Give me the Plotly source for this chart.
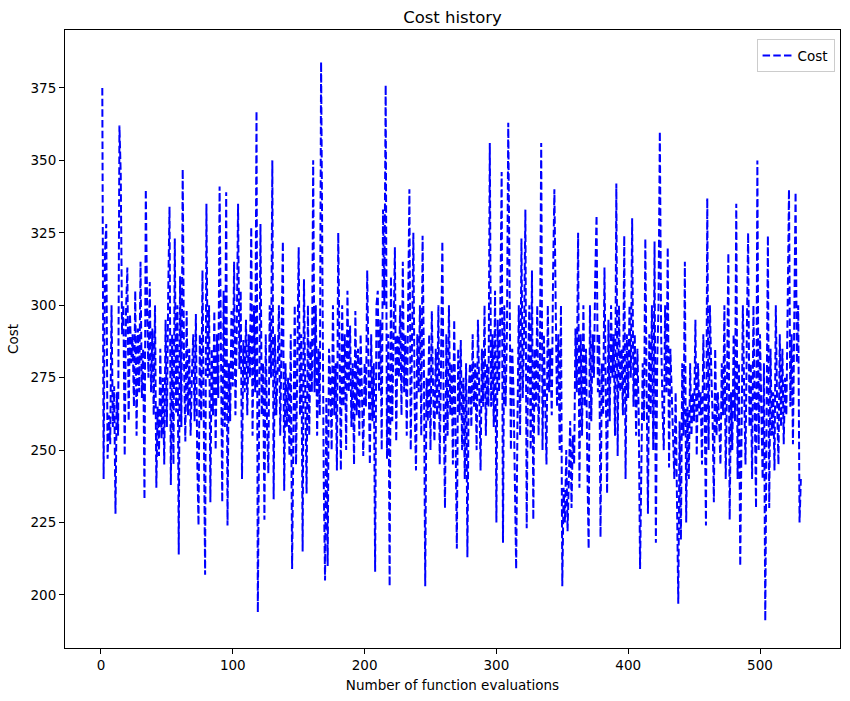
import plotly.graph_objects as go

cost = [
    375, 240, 318, 328, 247, 262, 252, 300, 258, 272,
    228, 270, 255, 362, 345, 290, 300, 248, 298, 313,
    260, 297, 280, 290, 265, 305, 255, 292, 270, 315,
    268, 285, 233, 340, 300, 275, 308, 270, 292, 262,
    300, 237, 265, 248, 285, 254, 275, 245, 295, 258,
    304, 334, 238, 290, 245, 323, 263, 300, 214, 310,
    258, 347, 280, 253, 298, 262, 285, 255, 276, 290,
    260, 297, 248, 224, 290, 260, 312, 245, 207, 335,
    275, 300, 232, 285, 262, 298, 250, 290, 268, 341,
    280, 232, 305, 258, 339, 224, 280, 260, 298, 272,
    315, 262, 290, 335, 278, 305, 240, 288, 270, 295,
    262, 290, 275, 327, 255, 300, 270, 367, 194, 285,
    328, 262, 280, 226, 290, 258, 242, 300, 275, 350,
    233, 290, 262, 278, 300, 255, 285, 322, 236, 280,
    258, 275, 248, 290, 209, 260, 300, 245, 278, 320,
    262, 290, 215, 309, 270, 235, 300, 255, 288, 270,
    350, 270, 300, 255, 285, 262, 384, 290, 240, 205,
    268, 210, 285, 275, 250, 300, 262, 280, 243, 325,
    280, 243, 300, 265, 290, 250, 305, 270, 293, 258,
    280, 245, 298, 262, 285, 255, 290, 270, 248, 280,
    265, 312, 275, 245, 290, 260, 280, 208, 300, 305,
    270, 295, 250, 333, 300, 376, 247, 290, 203, 310,
    260, 300, 320, 253, 290, 275, 300, 262, 315, 270,
    290, 255, 305, 340, 250, 295, 325, 265, 243, 290,
    270, 300, 255, 324, 280, 203, 275, 260, 290, 250,
    298, 270, 253, 285, 262, 300, 245, 280, 322, 265,
    230, 290, 255, 300, 262, 280, 245, 295, 258, 216,
    285, 262, 288, 250, 275, 240, 280, 213, 270, 280,
    258, 290, 265, 280, 250, 295, 270, 243, 285, 265,
    300, 255, 280, 265, 356, 265, 290, 258, 305, 225,
    295, 270, 300, 346, 218, 300, 265, 290, 363, 295,
    250, 285, 270, 240, 209, 260, 300, 255, 323, 268,
    290, 333, 223, 278, 300, 250, 312, 226, 285, 265,
    300, 255, 280, 356, 250, 290, 265, 245, 300, 270,
    285, 262, 310, 340, 300, 265, 290, 250, 300, 203,
    237, 225, 250, 222, 240, 260, 230, 255, 245, 292,
    270, 325, 237, 290, 255, 300, 265, 285, 245, 216,
    300, 260, 290, 275, 310, 331, 270, 290, 220, 280,
    262, 313, 270, 235, 295, 260, 300, 275, 290, 255,
    342, 248, 300, 270, 285, 262, 324, 240, 290, 268,
    300, 275, 330, 265, 290, 255, 285, 262, 209, 250,
    280, 260, 323, 270, 228, 290, 262, 300, 250, 322,
    218, 280, 300, 360, 290, 265, 250, 300, 270, 320,
    244, 285, 270, 255, 240, 270, 225, 197, 260, 219,
    280, 255, 315, 225, 265, 240, 280, 255, 270, 260,
    295, 248, 280, 262, 270, 245, 290, 265, 224, 337,
    250, 300, 278, 262, 232, 285, 255, 270, 260, 245,
    280, 262, 300, 240, 275, 318, 226, 270, 250, 290,
    260, 335, 240, 280, 210, 258, 300, 270, 245, 290,
    325, 258, 280, 240, 300, 265, 230, 350, 250, 290,
    270, 240, 280, 191, 262, 324, 230, 285, 255, 270,
    243, 300, 265, 245, 290, 258, 285, 252, 275, 262,
    300, 340, 265, 290, 252, 310, 339, 280, 300, 225, 240,
]
evals = list(range(1, len(cost) + 1))

x_ticks = [0, 100, 200, 300, 400, 500]
y_ticks = [200, 225, 250, 275, 300, 325, 350, 375]

fig = go.Figure()
fig.add_trace(go.Scatter(
    x=evals, y=cost, mode="lines", name="Cost",
    line=dict(color="#0000ff", width=2, dash="7.5px,3.2px"),
))

axis_common = dict(
    showline=True, linecolor="black", linewidth=1, mirror=True,
    ticks="outside", ticklen=5, tickwidth=1, tickcolor="black",
    showgrid=False, zeroline=False,
    tickfont=dict(family="DejaVu Sans", size=13.5, color="black"),
)

fig.update_layout(
    width=850, height=701,
    paper_bgcolor="white", plot_bgcolor="white",
    margin=dict(l=65, r=10, t=30, b=53),
    font=dict(family="DejaVu Sans", size=13.5, color="black"),
    title=dict(text="Cost history", x=0.5, xref="paper", xanchor="center",
               y=1 - 17 / 701, yref="container", yanchor="middle",
               font=dict(family="DejaVu Sans", size=16.5, color="black")),
    xaxis=dict(range=[-27.3, 560.7], tickvals=x_ticks,
               title=dict(text="Number of function evaluations", standoff=8,
                          font=dict(family="DejaVu Sans", size=13.5)),
               **axis_common),
    yaxis=dict(range=[181.7, 395.0], tickvals=y_ticks,
               title=dict(text="Cost", standoff=8,
                          font=dict(family="DejaVu Sans", size=13.5)),
               **axis_common),
    showlegend=True,
    legend=dict(x=0.993, y=0.985, xanchor="right", yanchor="top",
                bgcolor="rgba(255,255,255,0.8)", bordercolor="#cccccc",
                borderwidth=1, font=dict(family="DejaVu Sans", size=13.5)),
)

fig.write_html("out.html")
